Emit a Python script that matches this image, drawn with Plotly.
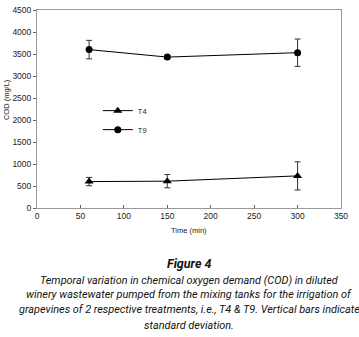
import plotly.graph_objects as go

time_min = [60, 150, 300]
t4_cod = [600, 610, 730]
t4_sd = [95, 150, 320]
t9_cod = [3600, 3430, 3530]
t9_sd = [210, 40, 310]

x_ticks = [0, 50, 100, 150, 200, 250, 300, 350]
y_ticks = [0, 500, 1000, 1500, 2000, 2500, 3000, 3500, 4000, 4500]

fig = go.Figure()
fig.add_trace(go.Scatter(
    x=time_min, y=t4_cod, name="T4", mode="lines+markers",
    line=dict(color="black", width=1),
    marker=dict(symbol="triangle-up", size=8, color="black"),
    error_y=dict(type="data", array=t4_sd, visible=True, color="#333", thickness=1, width=3),
))
fig.add_trace(go.Scatter(
    x=time_min, y=t9_cod, name="T9", mode="lines+markers",
    line=dict(color="black", width=1),
    marker=dict(symbol="circle", size=7, color="black"),
    error_y=dict(type="data", array=t9_sd, visible=True, color="#333", thickness=1, width=3),
))

axis_font = dict(family="Liberation Sans, Arial", size=8.5, color="#222")
fig.update_layout(
    width=359, height=337,
    margin=dict(l=37, r=18, t=10, b=129),
    paper_bgcolor="white", plot_bgcolor="white",
    showlegend=True,
    legend=dict(x=0.2, y=0.565, xanchor="left", yanchor="top",
                font=dict(family="Liberation Sans, Arial", size=7.5, color="#222"),
                bgcolor="rgba(0,0,0,0)", itemwidth=30, tracegroupgap=0),
    xaxis=dict(range=[0, 350], tickvals=x_ticks, ticks="inside", ticklen=3,
               tickcolor="#666", showline=True, linecolor="#999", linewidth=1,
               mirror=True, showgrid=False, zeroline=False, tickfont=axis_font,
               automargin=False),
    yaxis=dict(range=[0, 4500], tickvals=y_ticks, ticks="outside", ticklen=3,
               tickcolor="#666", showline=True, linecolor="#999", linewidth=1,
               mirror=True, showgrid=False, zeroline=False, tickfont=axis_font,
               automargin=False),
)

title_font = dict(family="Liberation Sans, Arial", size=7.5, color="#222")
fig.add_annotation(text="Time (min)", xref="paper", yref="paper", x=0.5, y=-0.116,
                   xanchor="center", yanchor="middle", showarrow=False, font=title_font)
fig.add_annotation(text="COD (mg/L)", xref="paper", yref="paper", x=-0.102, y=0.55,
                   xanchor="center", yanchor="middle",
                   textangle=-90, showarrow=False, font=title_font)

fig.add_annotation(text="<b><i>Figure 4</i></b>", xref="paper", yref="paper",
                   x=0.5, y=-0.278, xanchor="center", yanchor="middle", showarrow=False,
                   font=dict(family="Roboto", size=12.5, color="#111"))
cap_lines = [
    "Temporal variation in chemical oxygen demand (COD) in diluted",
    "winery wastewater pumped from the mixing tanks for the irrigation of",
    "grapevines of 2 respective treatments, i.e., T4 &amp; T9. Vertical bars indicate",
    "standard deviation.",
]
cap_y = [-0.364, -0.439, -0.515, -0.591]
for line, yy in zip(cap_lines, cap_y):
    fig.add_annotation(text="<i>" + line + "</i>", xref="paper", yref="paper",
                       x=0.5, y=yy, xanchor="center", yanchor="middle", showarrow=False,
                       font=dict(family="Roboto", size=10.9, color="#111"))

fig.write_html("out.html", config={"displayModeBar": False},
               post_script="document.body.style.margin='0';document.body.style.overflow='hidden';")
